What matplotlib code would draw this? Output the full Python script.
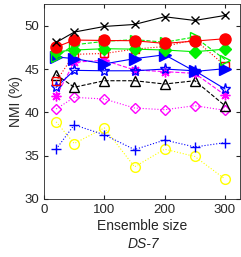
import matplotlib
matplotlib.use("Agg")
import matplotlib.pyplot as plt

plt.rcParams['font.family'] = ['Liberation Sans', 'DejaVu Sans']

sizes = [20, 50, 100, 150, 200, 250, 300]

black_x = [48.07, 49.27, 49.92, 50.15, 51.04, 50.61, 51.19]
red_circle = [47.54, 48.35, 48.3, 48.27, 47.96, 48.23, 48.5]
green_tri = [46.4, 47.8, 48.2, 48.4, 48.1, 48.7, 46.1]
green_diamond = [47.0, 47.2, 47.35, 47.3, 47.2, 47.0, 47.3]
red_square = [43.6, 46.7, 46.8, 47.3, 47.6, 48.4, 45.4]
blue_tri = [46.4, 46.2, 45.6, 46.2, 46.65, 44.73, 45.04]
blue_star = [42.9, 44.85, 44.8, 44.8, 45.0, 44.8, 42.7]
magenta_star = [41.85, 45.8, 46.0, 44.9, 44.7, 44.5, 42.0]
black_tri = [44.35, 42.9, 43.65, 43.65, 43.27, 43.65, 40.77]
magenta_diamond = [40.39, 41.73, 41.54, 40.5, 40.3, 40.77, 40.23]
yellow_circle = [38.9, 36.4, 38.2, 33.7, 35.75, 34.9, 32.3]
blue_plus = [35.75, 38.55, 37.4, 35.7, 36.8, 36.0, 36.5]

fig = plt.figure(figsize=(2.41, 2.57), dpi=100)
ax = fig.add_axes([0.183, 0.226, 0.813, 0.758])

lw = 0.8
green = '#00f000'
ax.plot(sizes, yellow_circle, ':', color='#ffff00', marker='o', mfc='none', ms=7, lw=lw)
ax.plot(sizes, blue_plus, ':', color='#0000ff', marker='+', ms=7, lw=lw)
ax.plot(sizes, magenta_diamond, ':', color='#ff00ff', marker='D', mfc='none', ms=5.5, lw=lw)
ax.plot(sizes, black_tri, '--', color='black', marker='^', mfc='none', ms=7, lw=lw)
ax.plot(sizes, magenta_star, '--', color='#ff00ff', marker=(8, 2, 0), ms=7, lw=lw)
ax.plot(sizes, blue_star, '-', color='#0000ff', marker='*', mfc='none', ms=8, lw=lw)
ax.plot(sizes, red_square, ':', color='red', marker='s', mfc='none', ms=6, lw=lw)
ax.plot(sizes, blue_tri, '-', color='#0000ff', marker='>', ms=8, lw=lw)
ax.plot(sizes, green_diamond, '-', color=green, marker='D', ms=6, lw=lw)
ax.plot(sizes, green_tri, '--', color=green, marker='>', mfc='none', ms=7, lw=lw)
ax.plot(sizes, red_circle, '-', color='red', marker='o', ms=8, lw=lw)
ax.plot(sizes, black_x, '-', color='black', marker='x', ms=6, lw=lw)

ax.set_xlim(0, 325)
ax.set_ylim(30, 52.5)
ax.set_xticks([0, 100, 200, 300])
ax.set_yticks([30, 35, 40, 45, 50])
ax.tick_params(direction='in', top=True, right=True, labelsize=9.5, colors='#262626', length=3)
for s in ax.spines.values():
    s.set_color('#262626')
    s.set_linewidth(0.6)
ax.set_xlabel('Ensemble size', fontsize=10, color='#262626', labelpad=2)
ax.set_ylabel('NMI (%)', fontsize=10, color='#262626', labelpad=1)
fig.text(0.593, 0.035, 'DS-7', fontsize=10, style='italic', ha='center', color='#262626')

fig.savefig('out.png', dpi=100)
